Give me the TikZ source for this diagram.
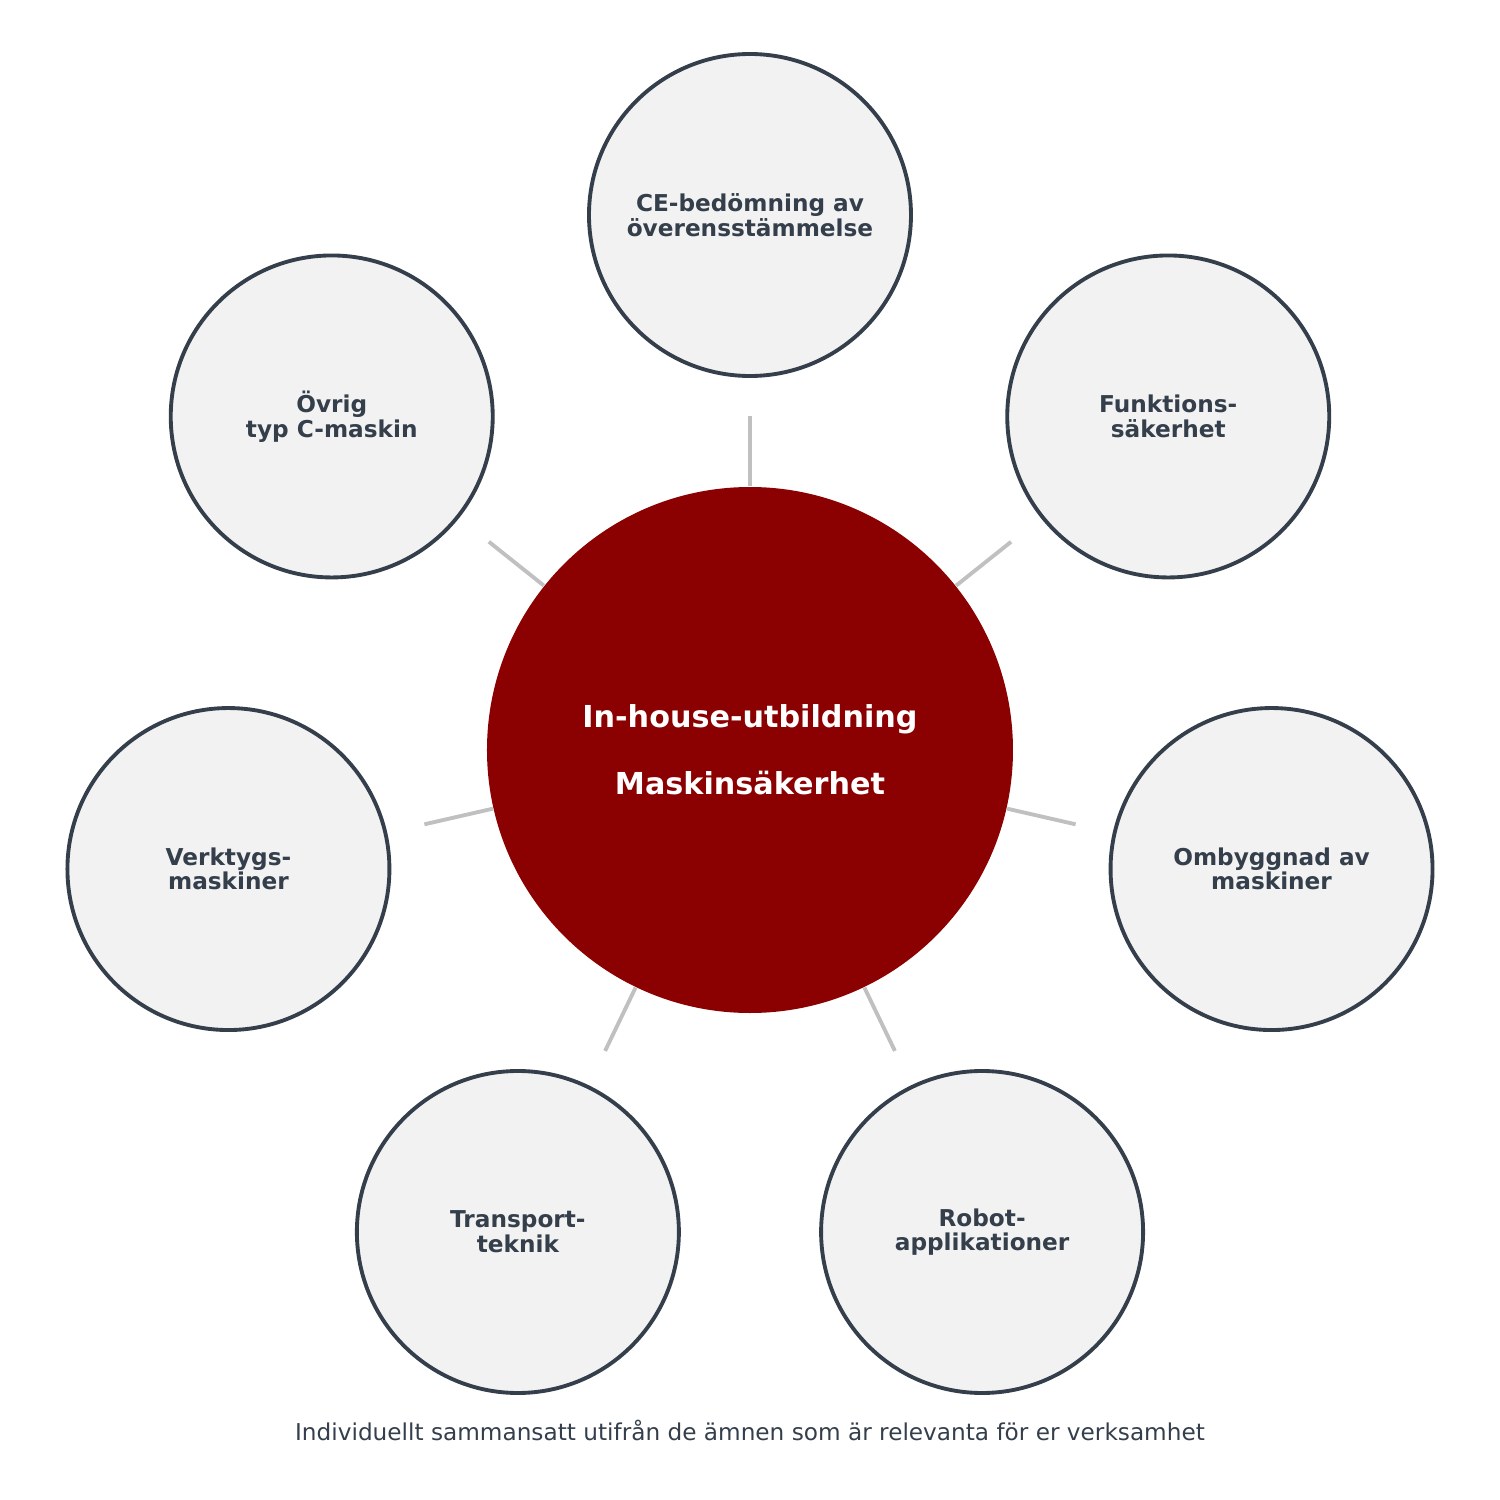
\documentclass[tikz,border=0pt]{standalone}
\usepackage{fontspec}
\setmainfont{DejaVu Sans}
\definecolor{msdark}{RGB}{52,63,75}
\definecolor{msred}{RGB}{139,0,0}
\definecolor{msfill}{RGB}{242,242,242}
\definecolor{msline}{RGB}{192,192,192}
\usetikzlibrary{positioning}
\tikzset{
  topic/.style={circle, draw=msdark, line width=1.1pt, fill=msfill,
    minimum size=3.22cm, inner sep=0pt, align=center, text=msdark,
    font=\fontsize{6.6}{7}\selectfont\bfseries},
  spoke/.style={msline, line width=1.1pt}
}
\begin{document}
\begin{tikzpicture}
\useasboundingbox (-7.5,-7.5) rectangle (7.5,7.5);
\node[circle, fill=msred, minimum size=5.26cm, inner sep=0pt, align=center,
  text=white, font=\fontsize{8.6}{19}\selectfont\bfseries] (hub) at (0,0)
  {In-house-utbildning\\Maskinsäkerhet};
% outer topics
\foreach \i/\txt in {0/{CE-bedömning av\\överensstämmelse},
  1/{Funktions-\\säkerhet}, 2/{Ombyggnad av\\maskiner},
  3/{Robot-\\applikationer}, 4/{Transport-\\teknik},
  5/{Verktygs-\\maskiner}, 6/{Övrig\\typ C-maskin}} {
  \pgfmathsetmacro{\ang}{90-\i*360/7}
  \node[topic] (t\i) at (\ang:5.35) {\txt};
  \coordinate (e\i) at (\ang:3.34);
  \draw[spoke] (hub) -- (e\i);
}
\node[text=msdark, font=\fontsize{6.6}{7}\selectfont] (note) at (0,-6.8)
  {Individuellt sammansatt utifrån de ämnen som är relevanta för er verksamhet};
\end{tikzpicture}
\end{document}
